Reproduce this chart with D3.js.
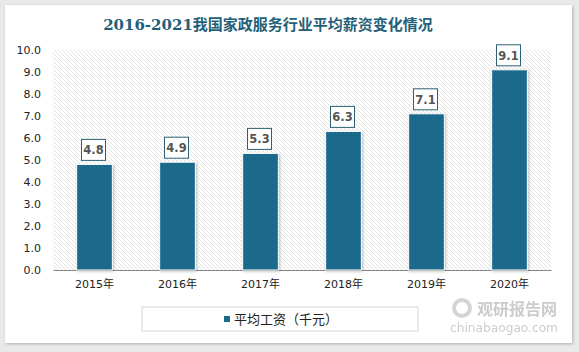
<!DOCTYPE html>
<html>
<head>
<meta charset="utf-8">
<script src="https://d3js.org/d3.v7.min.js"></script>
<style>
  body { margin: 0; background: #e9e9e9; }
  #chart { display: block; }
</style>
</head>
<body>
<svg id="chart"></svg>
<script>
  // data
  const years = ['2015年', '2016年', '2017年', '2018年', '2019年', '2020年'];
  const wages = [4.8, 4.9, 5.3, 6.3, 7.1, 9.1];
  const yTicks = [0, 1, 2, 3, 4, 5, 6, 7, 8, 9, 10];
  const titleText = '2016-2021我国家政服务行业平均薪资变化情况';
  const legendText = '平均工资（千元）';

  const W = 579, H = 352;
  const barColor = '#1c6a8b';
  const cjk = '"Noto Sans CJK SC", "Noto Sans", sans-serif';

  let svg = d3.select('#chart').attr('width', W).attr('height', H);

  // hatch pattern for plot area
  let defs = svg.append('defs');
  let pat = defs.append('pattern')
      .attr('id', 'hatch')
      .attr('patternUnits', 'userSpaceOnUse')
      .attr('width', 4).attr('height', 4);
  pat.append('rect').attr('width', 4).attr('height', 4).attr('fill', '#fff');
  pat.append('path').attr('d', 'M-1,-1 L5,5 M3,-1 L5,1 M-1,3 L1,5')
      .attr('stroke', '#dcdcdc').attr('stroke-width', 0.8);

  let shadow = defs.append('filter').attr('id', 'shadow')
      .attr('x', '-10%').attr('y', '-10%').attr('width', '120%').attr('height', '120%');
  shadow.append('feDropShadow').attr('dx', 1).attr('dy', 1).attr('stdDeviation', 1.5)
      .attr('flood-color', '#000').attr('flood-opacity', 0.25);

  // white card
  svg.append('rect')
     .attr('x', 5).attr('y', 5).attr('width', 567).attr('height', 338)
     .attr('fill', '#fff').attr('filter', 'url(#shadow)');

  const plot = {left: 53, right: 551, top: 50, bottom: 270};

  let x = d3.scaleBand().domain(years).range([plot.left, plot.right])
            .paddingInner(0.57).paddingOuter(0.285);
  let y = d3.scaleLinear().domain([0, 10]).range([plot.bottom, plot.top]);

  // plot background
  svg.append('rect')
     .attr('x', plot.left).attr('y', plot.top)
     .attr('width', plot.right - plot.left).attr('height', plot.bottom - plot.top)
     .attr('fill', 'url(#hatch)');

  // title
  svg.append('text')
     .attr('x', 268).attr('y', 30)
     .attr('text-anchor', 'middle')
     .attr('font-family', '"DejaVu Serif", "Noto Sans CJK SC", serif')
     .attr('font-weight', 'bold')
     .attr('font-size', 15)
     .attr('fill', '#245f78')
     .text(titleText);

  // y axis labels
  let yAxis = d3.axisLeft(y).tickValues(yTicks).tickFormat(d3.format('.1f')).tickSize(0).tickPadding(8);
  let gy = svg.append('g').attr('transform', `translate(${plot.left - 4},0)`).call(yAxis);
  gy.select('.domain').remove();
  gy.selectAll('text').attr('font-family', '"DejaVu Sans", Verdana, sans-serif')
    .attr('font-size', 11).attr('fill', '#222');

  // x axis
  let xAxis = d3.axisBottom(x).tickSize(0).tickPadding(10);
  let gx = svg.append('g').attr('transform', `translate(0,${plot.bottom})`).call(xAxis);
  gx.select('.domain').attr('stroke', '#888');
  gx.selectAll('text').attr('font-family', '"DejaVu Sans", ' + cjk)
    .attr('font-size', 11).attr('fill', '#222');

  // bars
  svg.append('g').selectAll('rect')
     .data(wages)
     .join('rect')
     .attr('x', (d, i) => x(years[i]))
     .attr('y', d => y(d))
     .attr('width', x.bandwidth())
     .attr('height', d => y(0) - y(d))
     .attr('fill', barColor)
     .attr('stroke', '#fff').attr('stroke-width', 1)
     .attr('filter', 'url(#shadow)');

  // value labels
  let lab = svg.append('g').selectAll('g')
     .data(wages)
     .join('g')
     .attr('transform', (d, i) => `translate(${x(years[i]) + x.bandwidth() / 2 - 1},${y(d) - 3})`);
  lab.append('rect')
     .attr('x', -12).attr('y', -22).attr('width', 24).attr('height', 21)
     .attr('fill', '#fff').attr('stroke', '#2f6076').attr('stroke-width', 1);
  lab.append('text')
     .attr('y', -7)
     .attr('text-anchor', 'middle')
     .attr('font-family', '"DejaVu Sans", Verdana, sans-serif')
     .attr('font-weight', 'bold')
     .attr('font-size', 11.5)
     .attr('fill', '#555')
     .text(d => d.toFixed(1));

  // legend
  svg.append('rect')
     .attr('x', 142).attr('y', 307).attr('width', 276).attr('height', 24)
     .attr('fill', '#fff').attr('stroke', '#d4d4d4');
  svg.append('rect')
     .attr('x', 224).attr('y', 316).attr('width', 6).attr('height', 6)
     .attr('fill', barColor);
  svg.append('text')
     .attr('x', 234).attr('y', 324)
     .attr('font-family', cjk)
     .attr('font-size', 13)
     .attr('fill', '#222')
     .text(legendText);

  // watermark
  let wm = svg.append('g').attr('opacity', 0.5);
  wm.append('circle').attr('cx', 462).attr('cy', 308).attr('r', 8)
    .attr('fill', 'none').attr('stroke', '#aaa').attr('stroke-width', 4);
  wm.append('text').attr('x', 477).attr('y', 315)
    .attr('font-family', cjk).attr('font-weight', 'bold')
    .attr('font-size', 16).attr('fill', '#999').text('观研报告网');
  wm.append('text').attr('x', 450).attr('y', 332)
    .attr('font-family', '"DejaVu Sans", sans-serif')
    .attr('font-size', 12).attr('fill', '#999')
    .attr('textLength', 108).attr('lengthAdjust', 'spacingAndGlyphs')
    .text('chinabaogao.com');
</script>
</body>
</html>
